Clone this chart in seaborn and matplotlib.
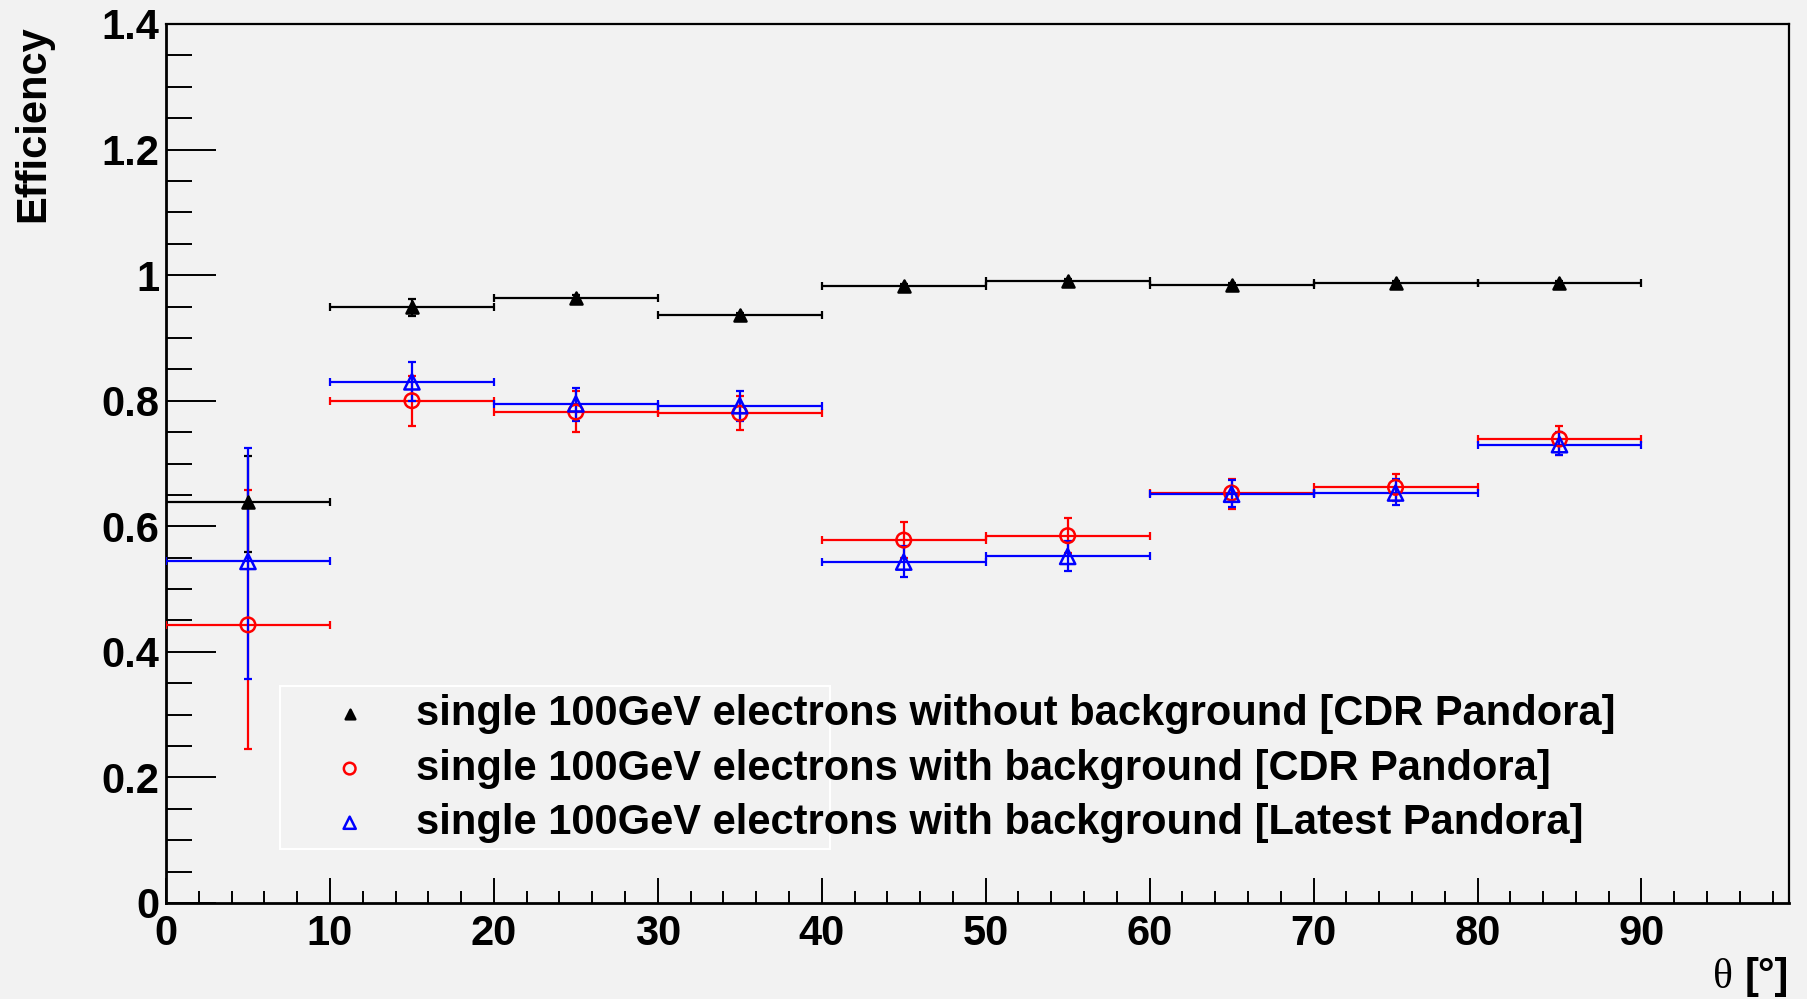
import numpy as np
import pandas as pd
import matplotlib
matplotlib.use("Agg")
import matplotlib.pyplot as plt
from matplotlib.markers import MarkerStyle
from matplotlib.patches import Rectangle
from matplotlib.ticker import MultipleLocator, FuncFormatter
import seaborn as sns

# Polar-angle bins (degrees)
theta_edges = [0, 10, 20, 30, 40, 50, 60, 70, 80, 90]

# single 100GeV electrons without background [CDR Pandora]
eff_nobg_cdr = [0.639, 0.950, 0.964, 0.936, 0.983, 0.991, 0.985, 0.988, 0.988]
err_lo_nobg_cdr = [0.080, 0.015, 0.004, 0.004, 0.003, 0.003, 0.003, 0.003, 0.003]
err_hi_nobg_cdr = [0.073, 0.012, 0.004, 0.004, 0.003, 0.003, 0.003, 0.003, 0.003]

# single 100GeV electrons with background [CDR Pandora]
eff_bg_cdr = [0.443, 0.800, 0.782, 0.780, 0.578, 0.585, 0.653, 0.662, 0.739]
err_lo_bg_cdr = [0.197, 0.041, 0.032, 0.026, 0.028, 0.028, 0.025, 0.022, 0.026]
err_hi_bg_cdr = [0.214, 0.040, 0.033, 0.027, 0.029, 0.028, 0.022, 0.021, 0.021]

# single 100GeV electrons with background [Latest Pandora]
eff_bg_latest = [0.544, 0.830, 0.795, 0.792, 0.543, 0.552, 0.651, 0.653, 0.730]
err_lo_bg_latest = [0.188, 0.030, 0.028, 0.024, 0.024, 0.024, 0.021, 0.019, 0.017]
err_hi_bg_latest = [0.180, 0.032, 0.026, 0.023, 0.026, 0.025, 0.023, 0.022, 0.020]

series_labels = [
    "single 100GeV electrons without background [CDR Pandora]",
    "single 100GeV electrons with background [CDR Pandora]",
    "single 100GeV electrons with background [Latest Pandora]",
]

edges = np.array(theta_edges, dtype=float)
centers = 0.5 * (edges[:-1] + edges[1:])
half_widths = 0.5 * (edges[1:] - edges[:-1])

bg = "#f2f2f2"
sns.set_style("ticks")
plt.rcParams["font.family"] = ["Liberation Sans", "DejaVu Sans"]
plt.rcParams["font.weight"] = "bold"
for key in ("text.color", "axes.labelcolor", "xtick.color", "ytick.color",
            "axes.edgecolor"):
    plt.rcParams[key] = "black"

fig = plt.figure(figsize=(18.08, 9.99), dpi=100, facecolor=bg)
ax = fig.add_axes([166 / 1808, 1 - 903 / 999, (1789 - 166) / 1808, (903 - 24) / 999])
ax.set_facecolor(bg)

series = [
    (eff_nobg_cdr, err_lo_nobg_cdr, err_hi_nobg_cdr, "black",
     MarkerStyle("^"), 75, series_labels[0]),
    (eff_bg_cdr, err_lo_bg_cdr, err_hi_bg_cdr, "#ff0000",
     MarkerStyle("o", fillstyle="none"), 110, series_labels[1]),
    (eff_bg_latest, err_lo_bg_latest, err_hi_bg_latest, "#0000ff",
     MarkerStyle("^", fillstyle="none"), 120, series_labels[2]),
]

for i, (eff, elo, ehi, col, mk, size, lab) in enumerate(series):
    ax.errorbar(centers, eff, xerr=half_widths, yerr=[elo, ehi], fmt="none",
                ecolor=col, elinewidth=1.6, capsize=3.2, capthick=1.6,
                zorder=2 + i)
    df = pd.DataFrame({"theta": centers, "eff": eff})
    sns.scatterplot(data=df, x="theta", y="eff", ax=ax, marker=mk, s=size,
                    color=col, edgecolor=col, linewidth=1.8, label=lab,
                    zorder=5 + i)

ax.set_xlim(0, 99)
ax.set_ylim(0, 1.4)
ax.xaxis.set_major_locator(MultipleLocator(10))
ax.xaxis.set_minor_locator(MultipleLocator(2))
ax.yaxis.set_major_locator(MultipleLocator(0.2))
ax.yaxis.set_minor_locator(MultipleLocator(0.05))
ax.yaxis.set_major_formatter(FuncFormatter(lambda v, p: f"{v:g}"))
ax.xaxis.set_major_formatter(FuncFormatter(lambda v, p: f"{v:g}"))

ax.tick_params(axis="y", which="major", direction="in", length=36, width=1.4,
               pad=5, labelsize=30, left=True, right=False, colors="black")
ax.tick_params(axis="y", which="minor", direction="in", length=19, width=1.4,
               left=True, right=False, colors="black")
ax.tick_params(axis="x", which="major", direction="in", length=18, width=1.4,
               pad=8, labelsize=30, bottom=True, top=False, colors="black")
ax.tick_params(axis="x", which="minor", direction="in", length=9, width=1.4,
               bottom=True, top=False, colors="black")
for lbl in ax.get_xticklabels() + ax.get_yticklabels():
    lbl.set_fontweight("bold")

for side, sp in ax.spines.items():
    sp.set_visible(True)
    sp.set_color("black")
    sp.set_linewidth(2.0 if side in ("left", "bottom") else 1.6)

ax.set_xlabel("")
ax.set_ylabel("")

# Legend box outline
ax.add_patch(Rectangle((0.070, 0.0614), 0.339, 0.1856, transform=ax.transAxes,
                       facecolor="none", edgecolor="white", linewidth=1.5,
                       zorder=1))
handles, labels = ax.get_legend_handles_labels()
leg = ax.legend(handles, labels, loc="center left",
                bbox_to_anchor=(0.0875, 0.153), frameon=False,
                fontsize=30, borderpad=0, handlelength=1.0,
                handletextpad=1.1, labelspacing=0.34, markerscale=0.8)
for t in leg.get_texts():
    t.set_fontweight("bold")
    t.set_color("black")

fig.text(33 / 1808, 1 - 25 / 999, "Efficiency", rotation=90, ha="center",
         va="top", fontsize=30, fontweight="bold", color="black")
fig.text(1789 / 1808, 1 - 988 / 999, "[°]", ha="right", va="baseline",
         fontsize=30, fontweight="bold", color="black")
fig.text(1733 / 1808, 1 - 988 / 999, "θ", ha="right", va="baseline",
         fontsize=30, fontweight="normal", color="black",
         family=["Liberation Serif", "DejaVu Serif"])

fig.savefig("out.png", dpi=100, facecolor=bg)
